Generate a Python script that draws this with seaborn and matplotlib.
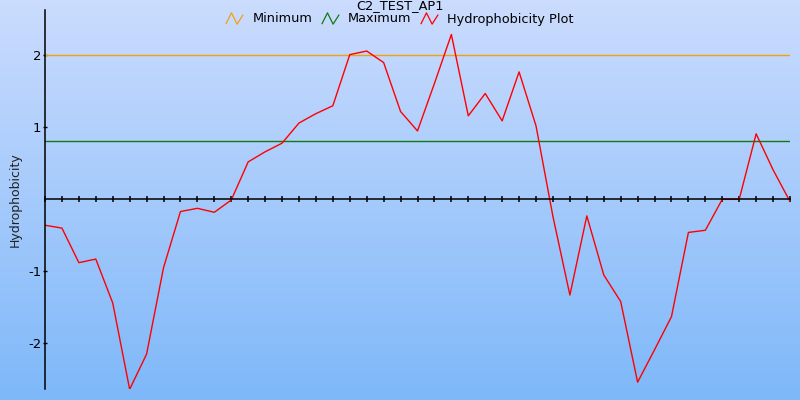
import numpy as np
import pandas as pd
import matplotlib
matplotlib.use("Agg")
import matplotlib.pyplot as plt
from matplotlib.path import Path
from matplotlib.lines import Line2D
import seaborn as sns

# ---- data ----
title = "C2_TEST_AP1"
ylabel = "Hydrophobicity"
series_names = ["Minimum", "Maximum", "Hydrophobicity Plot"]
series_colors = ["#f2a010", "#107a10", "#ff0000"]
hydro = [-0.36, -0.40, -0.88, -0.83, -1.44, -2.64, -2.15, -0.95, -0.17, -0.125,
         -0.18, -0.01, 0.52, 0.66, 0.78, 1.06, 1.19, 1.30, 2.01, 2.06,
         1.90, 1.22, 0.95, 1.61, 2.29, 1.16, 1.47, 1.09, 1.77, 1.02,
         -0.24, -1.33, -0.23, -1.05, -1.42, -2.54, -2.09, -1.63, -0.46, -0.43,
         0.0, 0.0, 0.91, 0.41, -0.03]
positions = list(range(len(hydro)))
minimum_level = 2.0
maximum_level = 0.806
ytick_values = [2, 1, -1, -2]
ytick_labels = ["2", "1", "-1", "-2"]

df = pd.concat([
    pd.DataFrame({"pos": positions, "value": [minimum_level] * len(positions), "series": series_names[0]}),
    pd.DataFrame({"pos": positions, "value": [maximum_level] * len(positions), "series": series_names[1]}),
    pd.DataFrame({"pos": positions, "value": hydro, "series": series_names[2]}),
])

plt.rcParams["font.family"] = ["DejaVu Sans"]
plt.rcParams["axes.unicode_minus"] = False

fig = plt.figure(figsize=(8, 4), dpi=100)

# gradient background
bg = fig.add_axes([0, 0, 1, 1], zorder=-10)
top = np.array([203, 220, 254]) / 255.0
bot = np.array([126, 184, 249]) / 255.0
t = np.linspace(0, 1, 256)[:, None]
grad = top[None, :] * (1 - t) + bot[None, :] * t
bg.imshow(grad[:, None, :], aspect="auto", extent=[0, 1, 0, 1])
bg.axis("off")

ax = fig.add_axes([45 / 800, 1 - 389 / 400, (790 - 45) / 800, (389 - 10) / 400])
ax.set_facecolor("none")

palette = dict(zip(series_names, series_colors))
sns.lineplot(data=df, x="pos", y="value", hue="series", palette=palette,
             linewidth=1.0, ax=ax, legend=False, estimator=None, sort=False)

ax.set_xlim(positions[0], positions[-1])
ax.set_ylim(-2.635, 2.63)

ax.spines["top"].set_visible(False)
ax.spines["right"].set_visible(False)
ax.spines["bottom"].set_position(("data", 0))
ax.spines["bottom"].set_linewidth(1.1)
ax.spines["left"].set_linewidth(1.1)

ax.set_xticks(positions)
ax.set_xticklabels([])
ax.tick_params(axis="x", direction="inout", length=4.5, width=1.1, color="black")
ax.set_yticks(ytick_values)
ax.set_yticklabels(ytick_labels, fontsize=9.5)
ax.tick_params(axis="y", direction="inout", length=3.5, width=1.0, pad=1)
ax.set_xlabel("")
ax.set_ylabel("")

fig.text(15 / 800, 1 - 200 / 400, ylabel, rotation=90, ha="center", va="center",
         fontsize=9, color="#222222")

fig.text(0.5, 1 - 9.5 / 400, title, ha="center", va="baseline", fontsize=9.3)

zig = Path([(-1.0, -0.65), (-0.35, 0.65), (0.3, -0.65), (1.0, 0.45)],
           [Path.MOVETO, Path.LINETO, Path.LINETO, Path.LINETO])
handles = [Line2D([], [], linestyle="none", marker=zig, markersize=12.5,
                  markerfacecolor="none", markeredgecolor=c, markeredgewidth=0.9)
           for c in series_colors]
fig.legend(handles, series_names, loc="center", bbox_to_anchor=(0.5, 1 - 19 / 400),
           ncol=3, frameon=False, fontsize=9.3, handlelength=1.2,
           handletextpad=0.8, columnspacing=0.75, borderpad=0)

fig.savefig("out.png", dpi=100)
